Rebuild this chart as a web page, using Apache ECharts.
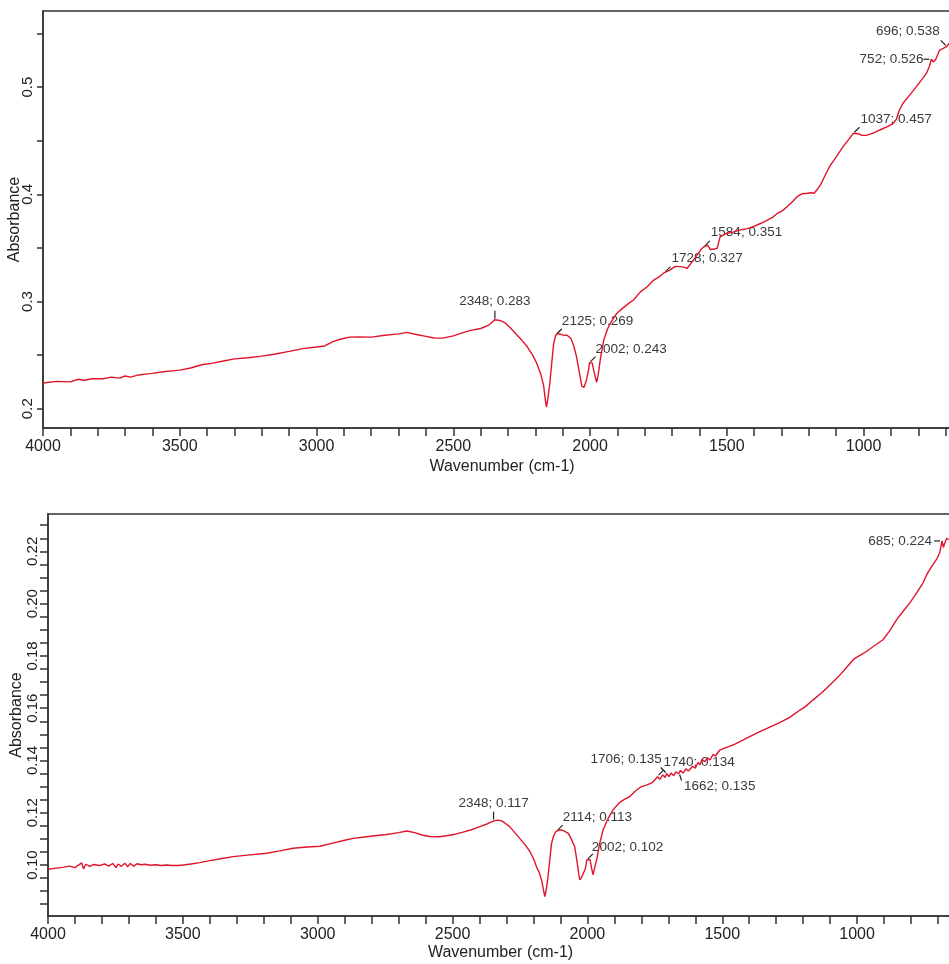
<!DOCTYPE html>
<html>
<head>
<meta charset="utf-8">
<title>FTIR spectra</title>
<script src="https://cdn.jsdelivr.net/npm/echarts@6/dist/echarts.min.js"></script>
<style>
  html, body { margin: 0; padding: 0; background: #fff; }
  #chart { width: 949px; height: 964px; }
</style>
</head>
<body>
<div id="chart"></div>
<script>
// ---- upper spectrum ----
const topWavenumber = [
  4000, 3950, 3900, 3870, 3850, 3820, 3780, 3750, 3720, 3700, 3680, 3650, 3620, 3600, 3560, 3520, 3500,
  3460, 3420, 3380, 3340, 3300, 3250, 3200, 3150, 3100, 3050, 3000, 2970, 2940, 2910, 2880, 2850, 2800,
  2750, 2700, 2670, 2640, 2600, 2570, 2540, 2500, 2470, 2440, 2400, 2370, 2348, 2330, 2310, 2290, 2270,
  2250, 2230, 2210, 2195, 2180, 2170, 2163, 2159, 2154, 2147, 2140, 2133, 2125, 2115, 2100, 2084, 2070,
  2060, 2050, 2040, 2030, 2022, 2013, 2005, 2002, 1992, 1986, 1976, 1970, 1962, 1950, 1935, 1925, 1905,
  1889, 1860, 1840, 1816, 1790, 1767, 1745, 1728, 1710, 1690, 1670, 1655, 1645, 1627, 1610, 1596, 1584,
  1570, 1560, 1545, 1535, 1525, 1510, 1498, 1475, 1450, 1425, 1401, 1375, 1352, 1330, 1315, 1295, 1279,
  1260, 1242, 1225, 1206, 1190, 1181, 1168, 1157, 1140, 1124, 1100, 1075, 1055, 1037, 1020, 1005, 990,
  965, 941, 915, 892, 880, 870, 856, 830, 807, 790, 770, 760, 752, 745, 736, 722, 710, 696, 685
];
const topAbsorbance = [
  0.224, 0.2255, 0.225, 0.2275, 0.2265, 0.228, 0.228, 0.2295, 0.2285, 0.2305, 0.2295, 0.2315, 0.2325, 0.233, 0.2345, 0.2355, 0.236,
  0.238, 0.241, 0.2425, 0.2445, 0.2465, 0.2475, 0.249, 0.251, 0.2535, 0.256, 0.2575, 0.2585, 0.2625, 0.265, 0.2668, 0.267, 0.2668,
  0.2685, 0.2698, 0.2712, 0.2695, 0.2675, 0.266, 0.2658, 0.268, 0.2705, 0.2728, 0.2748, 0.278, 0.283, 0.2823, 0.28, 0.275, 0.2695,
  0.264, 0.258, 0.25, 0.2425, 0.232, 0.222, 0.207, 0.2015, 0.21, 0.224, 0.243, 0.261, 0.269, 0.27, 0.2688, 0.2685, 0.2655,
  0.259, 0.249, 0.235, 0.221, 0.22, 0.227, 0.237, 0.243, 0.2426, 0.235, 0.2245, 0.232, 0.247, 0.264, 0.275, 0.28, 0.288,
  0.292, 0.298, 0.3016, 0.309, 0.314, 0.32, 0.3235, 0.327, 0.329, 0.3326, 0.3325, 0.3318, 0.331, 0.337, 0.343, 0.348, 0.351,
  0.3525, 0.3485, 0.349, 0.3497, 0.36, 0.3625, 0.3637, 0.365, 0.3668, 0.368, 0.37, 0.373, 0.376, 0.379, 0.3823, 0.385, 0.3886,
  0.393, 0.398, 0.4005, 0.401, 0.4015, 0.401, 0.405, 0.409, 0.418, 0.426, 0.435, 0.4445, 0.451, 0.457, 0.4565, 0.455, 0.455,
  0.457, 0.46, 0.463, 0.466, 0.47, 0.478, 0.485, 0.493, 0.5004, 0.506, 0.513, 0.519, 0.526, 0.5235, 0.526, 0.5346, 0.536, 0.538, 0.5415
];
const topNoteWavenumber = [2348, 2125, 2002, 1728, 1584, 1037, 752, 696];
const topNoteAbsorbance = [0.283, 0.269, 0.243, 0.327, 0.351, 0.457, 0.526, 0.538];

// ---- lower spectrum ----
const bottomWavenumber = [
  4000, 3970, 3940, 3920, 3900, 3890, 3875, 3868, 3860, 3845, 3830, 3810, 3790, 3775, 3760, 3748, 3740,
  3728, 3715, 3705, 3695, 3682, 3670, 3655, 3640, 3620, 3600, 3580, 3560, 3540, 3520, 3500, 3470, 3437,
  3400, 3360, 3313, 3260, 3189, 3140, 3091, 3040, 2992, 2940, 2900, 2868, 2820, 2780, 2745, 2700, 2670,
  2640, 2610, 2584, 2550, 2522, 2490, 2461, 2430, 2399, 2370, 2349, 2335, 2320, 2305, 2288, 2270, 2251,
  2230, 2213, 2200, 2189, 2178, 2170, 2163, 2158, 2152, 2146, 2140, 2133, 2125, 2117, 2105, 2096, 2085,
  2071, 2060, 2047, 2038, 2032, 2028, 2022, 2016, 2008, 2002, 1995, 1990, 1984, 1979, 1973, 1966, 1955,
  1942, 1925, 1905, 1880, 1860, 1843, 1820, 1800, 1781, 1760, 1740, 1732, 1720, 1712, 1706, 1698, 1690,
  1680, 1672, 1662, 1655, 1645, 1635, 1625, 1610, 1600, 1590, 1583, 1575, 1565, 1555, 1545, 1535, 1525,
  1509, 1490, 1476, 1455, 1435, 1400, 1361, 1330, 1287, 1250, 1213, 1192, 1163, 1130, 1100, 1070, 1040,
  1010, 985, 966, 935, 904, 880, 854, 830, 805, 780, 756, 740, 719, 705, 694, 685, 680, 675, 668, 660
];
const bottomAbsorbance = [
  0.0984, 0.0988, 0.0992, 0.0996, 0.099, 0.0998, 0.1008, 0.0985, 0.1003, 0.0995, 0.1002, 0.0998, 0.1004, 0.0996, 0.1006, 0.099, 0.1004,
  0.0995, 0.1007, 0.0993, 0.1006, 0.0996, 0.1005, 0.1001, 0.1003, 0.0999, 0.1001, 0.0998, 0.1, 0.0998, 0.0998, 0.1, 0.1004, 0.1009,
  0.1017, 0.1024, 0.1032, 0.1038, 0.1045, 0.1054, 0.1064, 0.1069, 0.1072, 0.1085, 0.1095, 0.1102, 0.1108, 0.1113, 0.1117, 0.1124, 0.113,
  0.1124, 0.1114, 0.1109, 0.1108, 0.1112, 0.1118, 0.1126, 0.1135, 0.1147, 0.1158, 0.1168, 0.1172, 0.117, 0.116, 0.1147, 0.1125, 0.1102,
  0.1076, 0.1051, 0.1025, 0.0994, 0.097, 0.0943, 0.0905, 0.0879, 0.091, 0.0955, 0.1015, 0.1083, 0.1112, 0.1128, 0.1134, 0.1134, 0.113,
  0.1121, 0.11, 0.107, 0.101, 0.0965, 0.0943, 0.0952, 0.0955, 0.0985, 0.102, 0.1026, 0.102, 0.0985, 0.0962, 0.099, 0.1019, 0.108,
  0.1134, 0.1175, 0.1211, 0.124, 0.1253, 0.1262, 0.1285, 0.13, 0.1306, 0.1315, 0.1338, 0.1328, 0.1345, 0.1335, 0.135, 0.1338, 0.1352,
  0.1342, 0.1356, 0.135, 0.1362, 0.1352, 0.1368, 0.136, 0.1378, 0.137, 0.1392, 0.1384, 0.1405, 0.1395, 0.141, 0.1402, 0.1422, 0.1418,
  0.144, 0.1448, 0.1453, 0.1462, 0.1472, 0.149, 0.151, 0.1525, 0.1545, 0.1565, 0.1592, 0.1606, 0.1632, 0.166, 0.169, 0.172, 0.1755,
  0.179, 0.1805, 0.1817, 0.184, 0.1862, 0.1895, 0.1938, 0.197, 0.2002, 0.204, 0.2079, 0.2115, 0.2149, 0.217, 0.2194, 0.224, 0.2215, 0.2232, 0.225, 0.2245
];
const bottomNoteWavenumber = [2348, 2114, 2002, 1706, 1740, 1662, 685];
const bottomNoteAbsorbance = [0.117, 0.113, 0.102, 0.135, 0.134, 0.135, 0.224];

// ---- axis ticks and labels ----
const xTickValues = [4000, 3900, 3800, 3700, 3600, 3500, 3400, 3300, 3200, 3100, 3000, 2900, 2800, 2700, 2600, 2500,
  2400, 2300, 2200, 2100, 2000, 1900, 1800, 1700, 1600, 1500, 1400, 1300, 1200, 1100, 1000, 900, 800, 700];
const xLabelValues = [4000, 3500, 3000, 2500, 2000, 1500, 1000];
const topYTickValues = [0.2, 0.25, 0.3, 0.35, 0.4, 0.45, 0.5, 0.55];
const topYLabelValues = [0.2, 0.3, 0.4, 0.5];
const bottomYTickValues = [0.085, 0.09, 0.095, 0.1, 0.105, 0.11, 0.115, 0.12, 0.125, 0.13, 0.135, 0.14, 0.145, 0.15,
  0.155, 0.16, 0.165, 0.17, 0.175, 0.18, 0.185, 0.19, 0.195, 0.2, 0.205, 0.21, 0.215, 0.22, 0.225, 0.23];
const bottomYLabelValues = [0.1, 0.12, 0.14, 0.16, 0.18, 0.2, 0.22];

// where each peak label sits relative to its point (pixels)
const topNoteLayout = [
  { dx: 0, dy: -18, align: 'center', mark: 'v' },
  { dx: 6, dy: -13, align: 'left', mark: 'ur' },
  { dx: 6, dy: -13, align: 'left', mark: 'ur' },
  { dx: 7, dy: -14, align: 'left', mark: 'ur' },
  { dx: 7, dy: -15, align: 'left', mark: 'ur' },
  { dx: 7, dy: -14, align: 'left', mark: 'ur' },
  { dx: -8, dy: 0, align: 'right', mark: 'l' },
  { dx: -7, dy: -15, align: 'right', mark: 'ul' }
];
const bottomNoteLayout = [
  { dx: 0, dy: -17, align: 'center', mark: 'v' },
  { dx: 6, dy: -14, align: 'left', mark: 'ur' },
  { dx: 5, dy: -13, align: 'left', mark: 'ur' },
  { dx: -5, dy: -14, align: 'right', mark: 'ul' },
  { dx: 6, dy: -13.5, align: 'left', mark: 'ur' },
  { dx: 5.5, dy: 12.5, align: 'left', mark: 'dr' },
  { dx: -10, dy: 0, align: 'right', mark: 'l' }
];

const FONT = 'Liberation Sans, Arial, sans-serif';
const AXIS_COLOR = '#333';
const CURVE_COLOR = '#e0142c';

function pairs(xs, ys) {
  return xs.map((x, i) => [x, ys[i]]);
}

function xAxisFor(gridIndex, nameGap) {
  return {
    type: 'value', gridIndex: gridIndex, inverse: true, min: 600, max: 4000,
    axisLine: { show: true, onZero: false, lineStyle: { color: AXIS_COLOR, width: 1.5 } },
    axisTick: { show: true, length: 8, customValues: xTickValues, lineStyle: { color: AXIS_COLOR, width: 1.5 } },
    axisLabel: {
      customValues: xLabelValues, margin: 11, fontSize: 16, color: '#222', fontFamily: FONT,
      formatter: v => String(v)
    },
    splitLine: { show: false },
    name: 'Wavenumber (cm-1)', nameLocation: 'middle', nameGap: nameGap, nameMoveOverlap: false,
    nameTextStyle: { fontSize: 16, color: '#222', fontFamily: FONT, padding: [0, 12, 0, 0] }
  };
}

function yAxisFor(gridIndex, min, max, ticks, labels, digits, tickLen, nameGap) {
  return {
    type: 'value', gridIndex: gridIndex, min: min, max: max,
    axisLine: { show: true, onZero: false, lineStyle: { color: AXIS_COLOR, width: 1.5 } },
    axisTick: { show: true, length: tickLen, customValues: ticks, lineStyle: { color: AXIS_COLOR, width: 1.5 } },
    axisLabel: {
      customValues: labels, rotate: 90, margin: 8, fontSize: 15, color: '#222', fontFamily: FONT,
      formatter: v => v.toFixed(digits)
    },
    splitLine: { show: false },
    name: 'Absorbance', nameLocation: 'middle', nameGap: nameGap, nameMoveOverlap: false,
    nameTextStyle: { fontSize: 16, color: '#222', fontFamily: FONT }
  };
}

const chart = echarts.init(document.getElementById('chart'), null, { renderer: 'canvas' });

chart.setOption({
  animation: false,
  backgroundColor: '#fff',
  grid: [
    { left: 43, right: -24, top: 11, bottom: 536, show: true, borderColor: AXIS_COLOR, borderWidth: 1.5, outerBoundsMode: 'none' },
    { left: 48, right: -16, top: 514, bottom: 48, show: true, borderColor: AXIS_COLOR, borderWidth: 1.5, outerBoundsMode: 'none' }
  ],
  xAxis: [xAxisFor(0, 31), xAxisFor(1, 29)],
  yAxis: [
    yAxisFor(0, 0.182, 0.571, topYTickValues, topYLabelValues, 1, 6, 20),
    yAxisFor(1, 0.0805, 0.2343, bottomYTickValues, bottomYLabelValues, 2, 8, 23)
  ],
  series: [
    {
      type: 'line', xAxisIndex: 0, yAxisIndex: 0, showSymbol: false, clip: true,
      lineStyle: { color: CURVE_COLOR, width: 1.4 },
      data: pairs(topWavenumber, topAbsorbance)
    },
    {
      type: 'line', xAxisIndex: 1, yAxisIndex: 1, showSymbol: false, clip: true,
      lineStyle: { color: CURVE_COLOR, width: 1.4 },
      data: pairs(bottomWavenumber, bottomAbsorbance)
    }
  ]
});

// peak labels placed through the axes' own scales
const markShapes = {
  v: [0, -9, 0, -1],
  ur: [1, -1, 6, -6],
  ul: [-1, -1, -6, -6],
  l: [-8, 0, -2, 0],
  dr: [1, 1, 3, 7]
};

function notes(gridIndex, wns, vals, layout) {
  const out = [];
  wns.forEach((wn, i) => {
    const p = chart.convertToPixel({ gridIndex: gridIndex }, [wn, vals[i]]);
    const lay = layout[i];
    const m = markShapes[lay.mark];
    out.push({
      type: 'line', silent: true,
      shape: { x1: p[0] + m[0], y1: p[1] + m[1], x2: p[0] + m[2], y2: p[1] + m[3] },
      style: { stroke: '#222', lineWidth: 1.2 }
    });
    out.push({
      type: 'text', silent: true, x: p[0] + lay.dx, y: p[1] + lay.dy,
      style: {
        text: wn + '; ' + vals[i].toFixed(3),
        fill: '#3a3a3a', font: '13.5px ' + FONT,
        textAlign: lay.align, textVerticalAlign: 'middle'
      }
    });
  });
  return out;
}

chart.setOption({
  graphic: notes(0, topNoteWavenumber, topNoteAbsorbance, topNoteLayout)
    .concat(notes(1, bottomNoteWavenumber, bottomNoteAbsorbance, bottomNoteLayout))
});
</script>
</body>
</html>
